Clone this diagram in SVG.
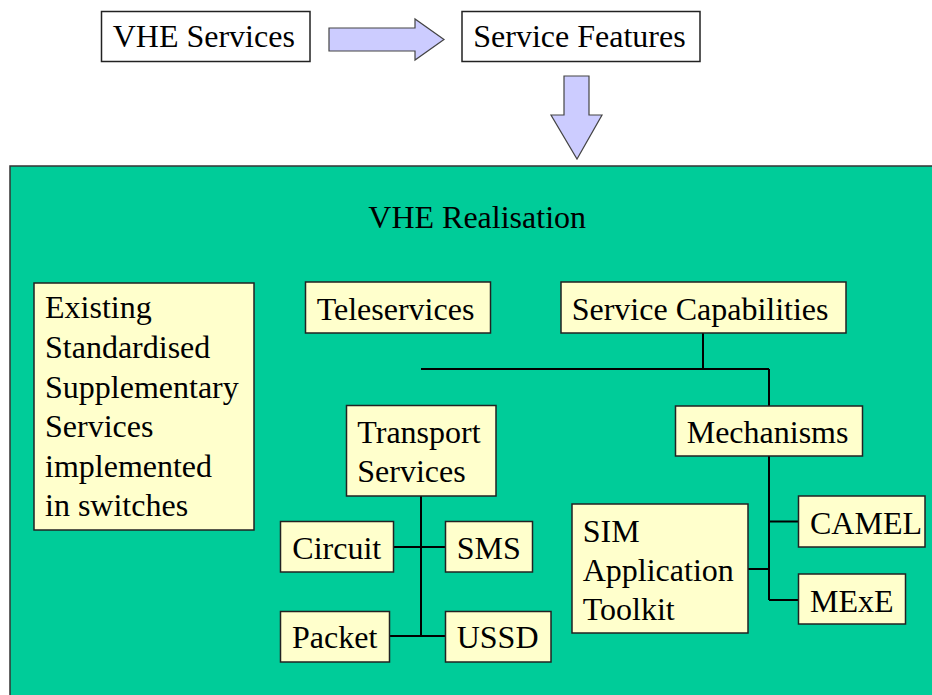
<svg xmlns="http://www.w3.org/2000/svg" width="932" height="695" viewBox="0 0 932 695" font-family="Liberation Serif, DejaVu Serif, serif" font-size="32">
<style>
.w{fill:#fff;stroke:#222;stroke-width:1.5}
.y{fill:#ffffcc;stroke:#222;stroke-width:1.5}
.ar{fill:#ccccff;stroke:#444;stroke-width:1.2}
.c{fill:none;stroke:#000;stroke-width:2}
</style>
<rect width="932" height="695" fill="#fff"/>
<g id="realisation">
<rect x="10" y="166" width="930" height="540" fill="#00cc99" stroke="#333" stroke-width="1.5"/>
<text x="368.3" y="228.3">VHE Realisation</text>
</g>
<g id="vhe-services"><rect class="w" x="101.5" y="11.5" width="208.5" height="50"/><text x="112.7" y="47">VHE Services</text></g>
<g id="service-features"><rect class="w" x="462" y="11.5" width="238" height="50"/><text x="473.3" y="47">Service Features</text></g>
<g id="arrows">
<polygon class="ar" points="329,28 415,28 415,19 444,39.5 415,60 415,51 329,51"/>
<polygon class="ar" points="564,76 589,76 589,115 602,115 577,159 551,115 564,115"/>
</g>
<g id="connectors">
<path class="c" d="M703 333V369M421 369H769M769 369V406"/>
<path class="c" d="M421 496V636M393 547H445.5M389 636H445.5"/>
<path class="c" d="M769 456V600M769 521.5H798.5M748 569H769M769 600H798.5"/>
</g>
<g id="existing"><rect class="y" x="34" y="283" width="220" height="247"/>
<text x="45" y="318.3">Existing</text><text x="45" y="358">Standardised</text><text x="45" y="397.5">Supplementary</text><text x="45" y="437">Services</text><text x="45" y="476.5">implemented</text><text x="45" y="516">in switches</text></g>
<g id="teleservices"><rect class="y" x="305.5" y="282" width="185" height="51"/><text x="316.7" y="320">Teleservices</text></g>
<g id="service-capabilities"><rect class="y" x="561" y="282" width="285" height="51"/><text x="571.7" y="320">Service Capabilities</text></g>
<g id="transport"><rect class="y" x="346.5" y="405.5" width="149.5" height="90.5"/><text x="357.3" y="443.3">Transport</text><text x="357.3" y="481.7">Services</text></g>
<g id="mechanisms"><rect class="y" x="675.5" y="406" width="187" height="50"/><text x="686.7" y="442.7">Mechanisms</text></g>
<g id="circuit"><rect class="y" x="280.5" y="521.5" width="113" height="50.5"/><text x="292.3" y="559.3">Circuit</text></g>
<g id="sms"><rect class="y" x="445.5" y="521.5" width="87" height="50.5"/><text x="456.7" y="559.3">SMS</text></g>
<g id="packet"><rect class="y" x="280.5" y="611.5" width="109" height="50.5"/><text x="292" y="648.3">Packet</text></g>
<g id="ussd"><rect class="y" x="445.5" y="611.5" width="105.5" height="50.5"/><text x="456.7" y="648.3">USSD</text></g>
<g id="sim"><rect class="y" x="572" y="504" width="176" height="129"/><text x="582.7" y="541.7">SIM</text><text x="582.7" y="580.5">Application</text><text x="582.7" y="620">Toolkit</text></g>
<g id="camel"><rect class="y" x="798.5" y="496" width="126.5" height="51"/><text x="810" y="534">CAMEL</text></g>
<g id="mexe"><rect class="y" x="798.5" y="574" width="107" height="50"/><text x="810" y="611.7">MExE</text></g>
</svg>
